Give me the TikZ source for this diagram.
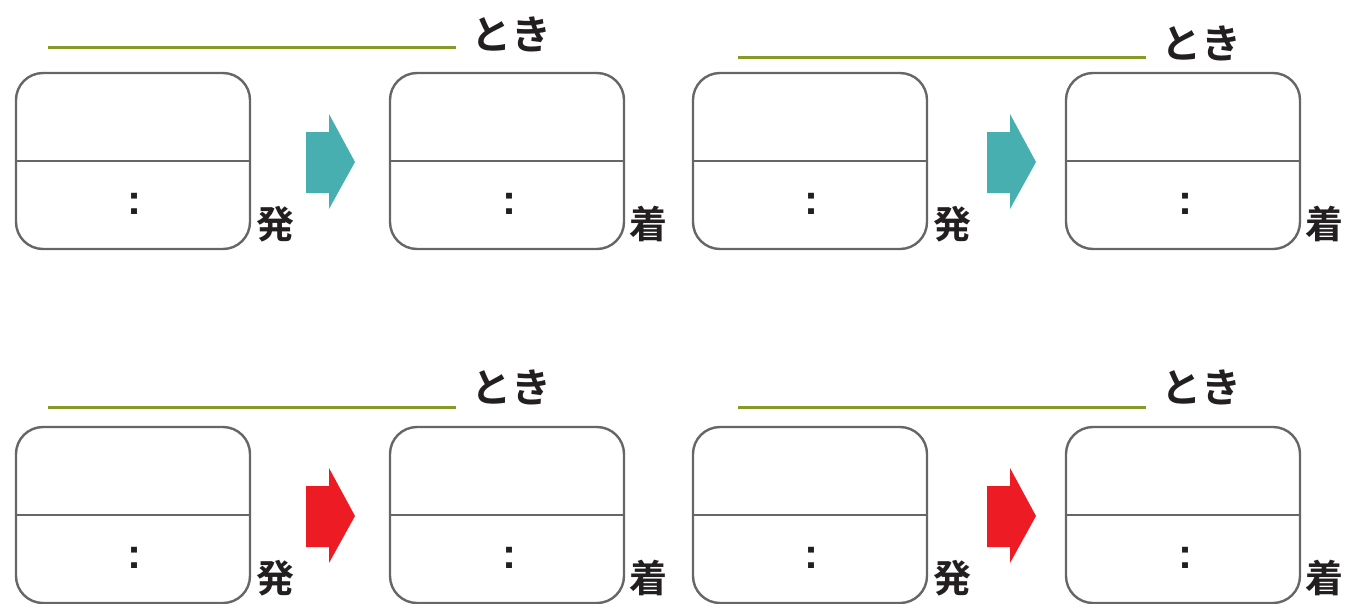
\documentclass[tikz,border=0pt]{standalone}
\usepackage{fontspec}
\newfontfamily\jpfont{Noto Sans CJK JP}[BoldFont={* Bold}]
\newfontfamily\colonfont{Liberation Sans}
\definecolor{boxgray}{HTML}{666666}
\definecolor{olive}{HTML}{869A2A}
\definecolor{tealarr}{HTML}{47AFAF}
\definecolor{redarr}{HTML}{ED1C24}
\definecolor{txt}{HTML}{231F20}
\begin{document}
\begin{tikzpicture}[x=1pt,y=-1pt,
  cardbox/.style={draw=boxgray,line width=2.4pt,rounded corners=27pt,minimum width=234pt,minimum height=176pt,inner sep=0pt},
  divline/.style={draw=boxgray,line width=2.6pt},
  blank/.style={draw=olive,line width=3pt},
  tokilabel/.style={font=\jpfont\bfseries\fontsize{40}{40}\selectfont,text=txt,inner sep=0pt},
  sidelabel/.style={font=\jpfont\bfseries\fontsize{38}{38}\selectfont,text=txt,inner sep=0pt},
  colonlabel/.style={font=\colonfont\bfseries\fontsize{42}{42}\selectfont,text=txt,inner sep=0pt}
]
\useasboundingbox (0,0) rectangle (1347,603);
% #1 name, #2 x of depart box, #3 x of arrive box, #4 top y, #5 line y, #6 toki y, #7 arrow colour, #8 line start, #9 arrow x
\newcommand{\panel}[9]{%
  \node[cardbox] (#1a) at (#2+117,#4+88) {};
  \node[cardbox] (#1b) at (#3+117,#4+88) {};
  \draw[divline] (#1a.west|-0,#4+88) -- (#1a.east|-0,#4+88);
  \draw[divline] (#1b.west|-0,#4+88) -- (#1b.east|-0,#4+88);
  \node[colonlabel] (#1ac) at (#2+118,#4+131) {:};
  \node[colonlabel] (#1bc) at (#3+119,#4+131) {:};
  \node[sidelabel] (#1ad) at (#2+259,#4+151) {発};
  \node[sidelabel] (#1bd) at (#3+258,#4+151) {着};
  \coordinate (#1ls) at (#8,#5);
  \coordinate (#1le) at (#8+408,#5);
  \draw[blank] (#1ls) -- (#1le);
  \node[tokilabel] (#1t) at (#8+463,#6) {とき};
  \fill[#7] (#9,#4+59) -- (#9+23,#4+59) -- (#9+23,#4+41) -- (#9+49,#4+89)
     -- (#9+23,#4+136) -- (#9+23,#4+120) -- (#9,#4+120) -- cycle;
}
\panel{p}{16}{390}{73}{47}{34}{tealarr}{48}{306}
\panel{q}{693}{1066}{73}{57}{43}{tealarr}{738}{987}
\panel{r}{16}{390}{427}{407}{387}{redarr}{48}{306}
\panel{s}{693}{1066}{427}{407}{387}{redarr}{738}{987}
\end{tikzpicture}
\end{document}
